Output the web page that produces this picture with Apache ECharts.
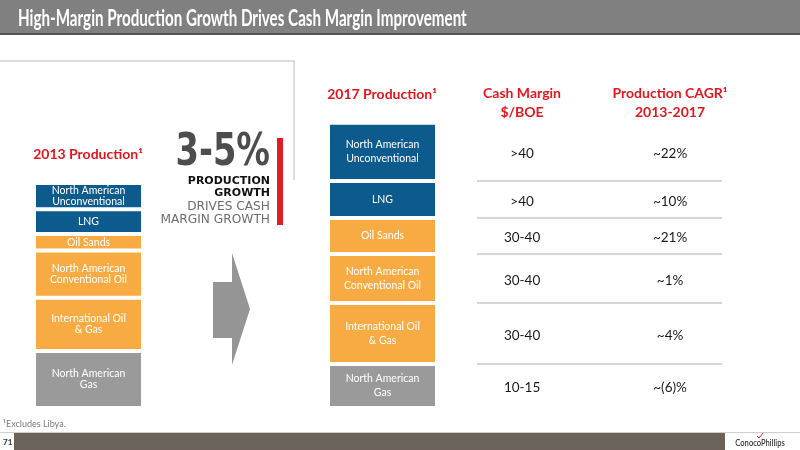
<!DOCTYPE html>
<html>
<head>
<meta charset="utf-8">
<script src="https://cdn.jsdelivr.net/npm/echarts@6/dist/echarts.min.js"></script>
<style>
html,body{margin:0;padding:0;background:#fff;}
#chart{width:800px;height:450px;}
</style>
</head>
<body>
<div id="chart"></div>
<script>
// ---- data (segments listed bottom -> top) ----
var segmentNames = ['North American\nGas', 'International Oil\n& Gas', 'North American\nConventional Oil', 'Oil Sands', 'LNG', 'North American\nUnconventional'];
var production2013 = [380, 355, 315, 110, 165, 175];
var production2017 = [293, 407, 327, 240, 247, 387];
var cashMargin = ['10-15', '30-40', '30-40', '30-40', '>40', '>40'];
var cagr = ['~(6)%', '~4%', '~1%', '~21%', '~10%', '~22%'];
var yearLabels = ['2013', '2017'];

// ---- styles ----
var BLUE = '#0d5a8c', ORANGE = '#f8ab42', GRAY = '#9a9a9a', RED = '#e3161e';
var segColors = [GRAY, ORANGE, ORANGE, ORANGE, BLUE, BLUE];
var FONT = 'Lato, "Open Sans", sans-serif';
var labelLineHeights = [11, 14];

var chart = echarts.init(document.getElementById('chart'));

var series = [];
segmentNames.forEach(function (name, i) {
  [production2013, production2017].forEach(function (arr, g) {
    series.push({
      type: 'bar',
      name: name,
      xAxisIndex: g,
      yAxisIndex: g,
      stack: 's' + g,
      barWidth: '100%',
      data: [arr[i]],
      itemStyle: { color: segColors[i], borderColor: '#fff', borderWidth: 2 },
      label: {
        show: true, position: 'inside', formatter: name,
        color: '#fff', fontFamily: FONT, fontSize: 10.5, lineHeight: labelLineHeights[g]
      },
      emphasis: { disabled: true },
      animation: false
    });
  });
});

// table rows aligned to the 2017 stack
var bounds = [];
var acc = 0;
production2017.forEach(function (v) { bounds.push([acc, acc + v]); acc += v; });

series.push({
  type: 'custom',
  xAxisIndex: 2,
  yAxisIndex: 2,
  data: bounds,
  encode: { y: [0, 1] },
  animation: false,
  silent: true,
  renderItem: function (params, api) {
    var i = params.dataIndex;
    var lo = api.value(0), hi = api.value(1);
    var pTop = api.coord([0, hi]);
    var pRight = api.coord([1, hi]);
    var c1 = api.coord([0.184, (lo + hi) / 2]);
    var c2 = api.coord([0.788, (lo + hi) / 2]);
    var children = [
      { type: 'text', style: { x: c1[0], y: c1[1] + 2, text: cashMargin[i], fill: '#1a1a1a', font: '13.5px ' + FONT, textAlign: 'center', textVerticalAlign: 'middle' } },
      { type: 'text', style: { x: c2[0], y: c2[1] + 2, text: cagr[i], fill: '#1a1a1a', font: '13.5px ' + FONT, textAlign: 'center', textVerticalAlign: 'middle' } }
    ];
    if (i < bounds.length - 1) {
      children.push({ type: 'line', shape: { x1: pTop[0], y1: pTop[1], x2: pRight[0], y2: pTop[1] }, style: { stroke: '#c9c9c9', lineWidth: 1.5 } });
    }
    return { type: 'group', children: children };
  }
});

var gridTop = 93, gridBottom = 42;
var option = {
  animation: false,
  grid: [
    { left: 34, width: 109, top: gridTop, bottom: gridBottom },
    { left: 328, width: 109, top: gridTop, bottom: gridBottom },
    { left: 477, width: 245, top: gridTop, bottom: gridBottom }
  ],
  xAxis: [
    { type: 'category', gridIndex: 0, data: [yearLabels[0]], show: false },
    { type: 'category', gridIndex: 1, data: [yearLabels[1]], show: false },
    { type: 'value', gridIndex: 2, min: 0, max: 1, show: false }
  ],
  yAxis: [
    { type: 'value', gridIndex: 0, min: 0, max: 2100, show: false },
    { type: 'value', gridIndex: 1, min: 0, max: 2100, show: false },
    { type: 'value', gridIndex: 2, min: 0, max: 2100, show: false }
  ],
  series: series,
  graphic: [
    // header
    { type: 'rect', shape: { x: 0, y: 0, width: 800, height: 33 }, style: { fill: '#808080' }, silent: true },
    { type: 'rect', shape: { x: 0, y: 33, width: 800, height: 2 }, style: { fill: '#555555' }, silent: true },
    { type: 'text', x: 18, y: 19, scaleX: 0.69, style: { text: 'High-Margin Production Growth Drives Cash Margin Improvement', fill: '#fff', font: 'bold 22px ' + FONT, textVerticalAlign: 'middle' }, silent: true },
    // frame line
    { type: 'polyline', shape: { points: [[0, 61], [294, 61], [294, 180]] }, style: { stroke: '#d2d2d2', lineWidth: 1.5, fill: null }, silent: true },
    // 3-5% block
    { type: 'text', x: 270, y: 154, scaleX: 0.85, style: { text: '3-5%', fill: '#4d4d4f', font: 'bold 44px "DejaVu Sans Condensed", "DejaVu Sans", sans-serif', textAlign: 'right', textVerticalAlign: 'middle' }, silent: true },
    { type: 'text', style: { x: 270, y: 181, text: 'PRODUCTION', fill: '#111', font: 'bold 11px "DejaVu Sans", sans-serif', textAlign: 'right', textVerticalAlign: 'middle' }, silent: true },
    { type: 'text', style: { x: 270, y: 193, text: 'GROWTH', fill: '#111', font: 'bold 11px "DejaVu Sans", sans-serif', textAlign: 'right', textVerticalAlign: 'middle' }, silent: true },
    { type: 'text', style: { x: 270, y: 207, text: 'DRIVES CASH', fill: '#6d6d6d', font: '12.2px "DejaVu Sans", sans-serif', textAlign: 'right', textVerticalAlign: 'middle' }, silent: true },
    { type: 'text', style: { x: 270, y: 220, text: 'MARGIN GROWTH', fill: '#6d6d6d', font: '12.2px "DejaVu Sans", sans-serif', textAlign: 'right', textVerticalAlign: 'middle' }, silent: true },
    { type: 'rect', shape: { x: 277, y: 138, width: 6, height: 87 }, style: { fill: '#e31b23' }, silent: true },
    // arrow
    { type: 'polygon', shape: { points: [[213, 282], [232, 282], [232, 253], [250, 309], [232, 365], [232, 338], [213, 338]] }, style: { fill: '#959595' }, silent: true },
    // headings
    { type: 'text', style: { x: 88, y: 154, text: '2013 Production¹', fill: RED, font: 'bold 14px ' + FONT, textAlign: 'center', textVerticalAlign: 'middle' }, silent: true },
    { type: 'text', style: { x: 382, y: 94, text: '2017 Production¹', fill: RED, font: 'bold 14px ' + FONT, textAlign: 'center', textVerticalAlign: 'middle' }, silent: true },
    { type: 'text', style: { x: 522, y: 93, text: 'Cash Margin', fill: RED, font: 'bold 14px ' + FONT, textAlign: 'center', textVerticalAlign: 'middle' }, silent: true },
    { type: 'text', style: { x: 522, y: 112, text: '$/BOE', fill: RED, font: 'bold 14px ' + FONT, textAlign: 'center', textVerticalAlign: 'middle' }, silent: true },
    { type: 'text', style: { x: 670, y: 93, text: 'Production CAGR¹', fill: RED, font: 'bold 14px ' + FONT, textAlign: 'center', textVerticalAlign: 'middle' }, silent: true },
    { type: 'text', style: { x: 670, y: 112, text: '2013-2017', fill: RED, font: 'bold 14px ' + FONT, textAlign: 'center', textVerticalAlign: 'middle' }, silent: true },
    // footer
    { type: 'text', style: { x: 3, y: 424, text: '¹Excludes Libya.', fill: '#7a7a7a', font: '9px ' + FONT, textVerticalAlign: 'middle' }, silent: true },
    { type: 'rect', shape: { x: 0, y: 432, width: 800, height: 1 }, style: { fill: '#cfcfcf' }, silent: true },
    { type: 'rect', shape: { x: 14, y: 433, width: 711, height: 17 }, style: { fill: '#6b625a' }, silent: true },
    { type: 'text', style: { x: 3, y: 442, text: '71', fill: '#333', font: 'bold 8px ' + FONT, textVerticalAlign: 'middle' }, silent: true },
    { type: 'text', x: 760, y: 443, scaleX: 0.85, style: { text: 'ConocoPhillips', fill: '#111', font: '9px ' + FONT, textAlign: 'center', textVerticalAlign: 'middle' }, silent: true },
    { type: 'polyline', shape: { points: [[757, 436], [759, 438], [763, 433]] }, style: { stroke: '#e31b23', lineWidth: 1, fill: null }, silent: true }
  ]
};
chart.setOption(option);
</script>
</body>
</html>
